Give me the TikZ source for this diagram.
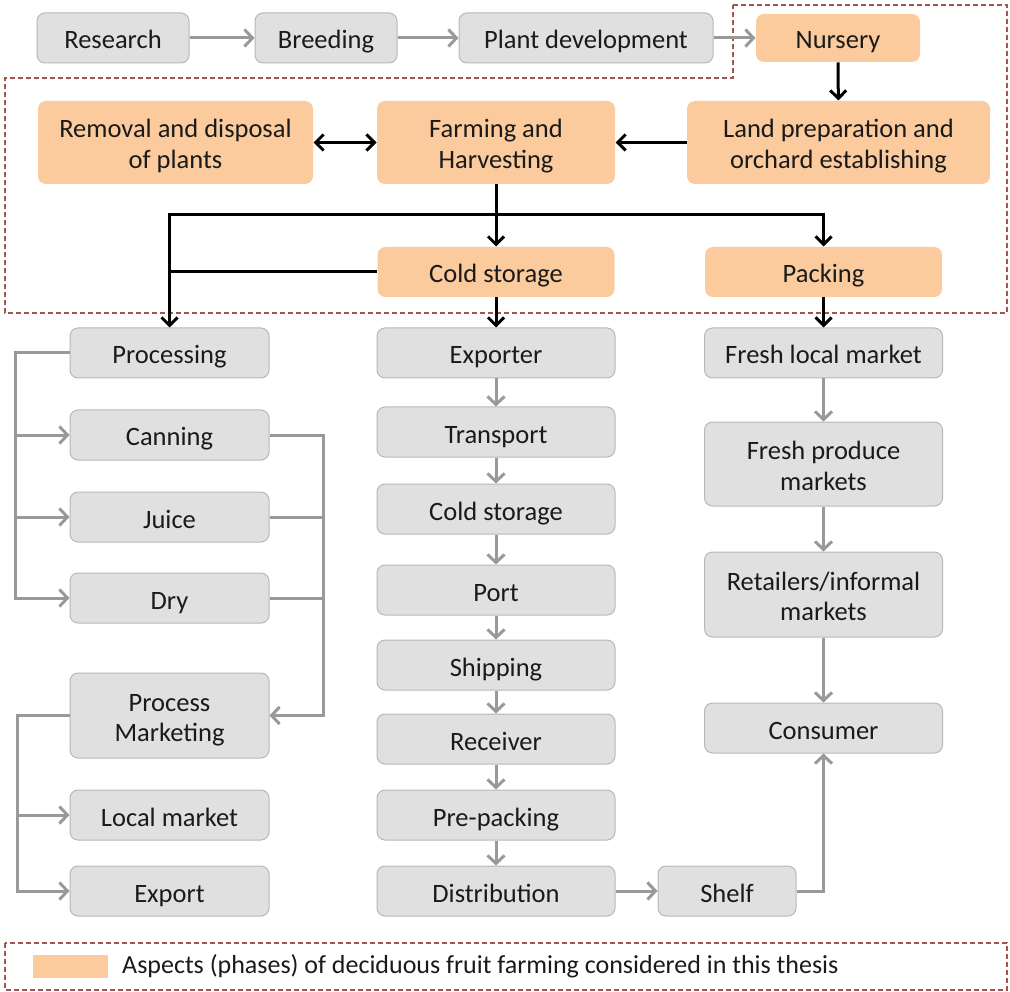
\documentclass[tikz,border=0pt]{standalone}
\usepackage{fontspec}
\setmainfont{Carlito}
\usetikzlibrary{arrows.meta}
\definecolor{boxgray}{HTML}{E0E0E0}
\definecolor{boxedge}{HTML}{B8B8B8}
\definecolor{peach}{HTML}{FBCB9D}
\definecolor{arrgray}{HTML}{999999}
\definecolor{dashred}{HTML}{A05552}
\definecolor{txt}{HTML}{1A1A1A}
\begin{document}
\begin{tikzpicture}[x=1pt,y=-1pt,
    gbox/.style={draw=boxedge, line width=1pt, fill=boxgray, rounded corners=8pt, align=center, text=txt,
        inner sep=0pt, minimum height=50pt, font=\fontsize{26.5}{30.5}\selectfont, text height=22pt, text depth=0pt},
    gtwo/.style={gbox, text height=52pt},
    obox/.style={gbox, draw=none, fill=peach},
    otwo/.style={gtwo, draw=none, fill=peach},
    garr/.style={draw=arrgray, line width=3pt, -{Straight Barb[length=8pt,width=17pt]}},
    gline/.style={draw=arrgray, line width=3pt},
    barr/.style={draw=black, line width=3pt, -{Straight Barb[length=8pt,width=16pt]}},
    bline/.style={draw=black, line width=3pt},
    region/.style={draw=dashred, line width=1.3pt, dash pattern=on 5pt off 3pt}]
        \useasboundingbox (0,0) rectangle (1010,992);

        % area of the thesis
        \draw[region] (733,5) -- (1007,5) -- (1007,313) -- (5,313) -- (5,78) -- (733,78) -- cycle;

        % top row
        \node[gbox, minimum width=152pt] (research) at (113,38) {Research};
        \node[gbox, minimum width=142pt] (breeding) at (326,38) {Breeding};
        \node[gbox, minimum width=254pt] (plantdev) at (586,38) {Plant development};
        \node[obox, minimum width=164pt, minimum height=48pt] (nursery) at (838,38) {Nursery};

        \node[otwo, minimum width=275pt, minimum height=83pt] (removal) at (175.5,142.5) {Removal and disposal\\of plants};
        \node[otwo, minimum width=238pt, minimum height=83pt] (farming) at (496,142.5) {Farming and\\Harvesting};
        \node[otwo, minimum width=303pt, minimum height=83pt] (landprep) at (838.5,142.5) {Land preparation and\\orchard establishing};

        \node[obox, minimum width=237pt] (coldstore) at (496,272) {Cold storage};
        \node[obox, minimum width=237pt] (packing) at (823.5,272) {Packing};

        % processing column
        \node[gbox, minimum width=199pt] (processing) at (169.5,353) {Processing};
        \node[gbox, minimum width=199pt] (canning) at (169.5,435) {Canning};
        \node[gbox, minimum width=199pt] (juice) at (169.5,517) {Juice};
        \node[gbox, minimum width=199pt] (dry) at (169.5,598) {Dry};
        \node[gtwo, minimum width=199pt, minimum height=85pt] (procmkt) at (169.5,715.5) {Process\\Marketing};
        \node[gbox, minimum width=199pt] (localmkt) at (169.5,815) {Local market};
        \node[gbox, minimum width=199pt] (export) at (169.5,891) {Export};

        % export column
        \node[gbox, minimum width=238pt] (exporter) at (496,353) {Exporter};
        \node[gbox, minimum width=238pt] (transport) at (496,432) {Transport};
        \node[gbox, minimum width=238pt] (coldstore2) at (496,509) {Cold storage};
        \node[gbox, minimum width=238pt] (port) at (496,590) {Port};
        \node[gbox, minimum width=238pt] (shipping) at (496,665) {Shipping};
        \node[gbox, minimum width=238pt] (receiver) at (496,739) {Receiver};
        \node[gbox, minimum width=238pt] (prepack) at (496,815) {Pre-packing};
        \node[gbox, minimum width=238pt] (distrib) at (496,891) {Distribution};
        \node[gbox, minimum width=138pt] (shelf) at (727,891) {Shelf};

        % fresh column
        \node[gbox, minimum width=238pt] (freshlocal) at (823.5,353) {Fresh local market};
        \node[gtwo, minimum width=238pt, minimum height=84pt] (freshprod) at (823.5,464) {Fresh produce\\markets};
        \node[gtwo, minimum width=238pt, minimum height=85pt] (retailers) at (823.5,594.5) {Retailers/informal\\markets};
        \node[gbox, minimum width=238pt] (consumer) at (823.5,728) {Consumer};

        % connectors
        \draw[garr] (research) -- (breeding);
        \draw[garr] (breeding) -- (plantdev);
        \draw[garr] (plantdev) -- (nursery);
        \draw[barr] (nursery) -- (landprep);
        \draw[barr] (landprep) -- (farming);
        \draw[barr, {Straight Barb[length=8pt,width=16pt]}-{Straight Barb[length=8pt,width=16pt]}] (removal) -- (farming);

        \coordinate (split) at (496,215);
        \draw[barr] (farming) -- (coldstore);
        \draw[barr] (split) -| (processing);
        \draw[barr] (split) -| (packing);
        \draw[bline] (coldstore.west) -- (coldstore.west -| processing);
        \draw[barr] (coldstore) -- (exporter);
        \draw[barr] (packing) -- (freshlocal);

        \coordinate (lbus) at (15,0);
        \coordinate (rbus) at (323,0);
        \coordinate (mbus) at (17,0);
        \draw[garr] (processing.west) -| (lbus |- dry) -- (dry);
        \draw[garr] (lbus |- canning) -- (canning);
        \draw[garr] (lbus |- juice) -- (juice);
        \draw[garr] (canning.east) -| (rbus |- procmkt) -- (procmkt);
        \draw[gline] (juice.east) -- (rbus |- juice);
        \draw[gline] (dry.east) -- (rbus |- dry);
        \draw[garr] (procmkt.west) -| (mbus |- export) -- (export);
        \draw[garr] (mbus |- localmkt) -- (localmkt);

        \foreach \a/\b in {exporter/transport, transport/coldstore2, coldstore2/port, port/shipping,
            shipping/receiver, receiver/prepack, prepack/distrib, freshlocal/freshprod,
            freshprod/retailers, retailers/consumer}
            \draw[garr] (\a) -- (\b);
        \draw[garr] (distrib) -- (shelf);
        \draw[garr] (shelf.east) -| (consumer.south);

        % legend
        \draw[region] (5,943) rectangle (1007,990);
        \node[fill=peach, minimum width=75pt, minimum height=23pt, inner sep=0pt] (swatch) at (70.5,966.5) {};
        \node[anchor=west, inner sep=0pt, text=txt, font=\fontsize{26}{30}\selectfont] (legtext) at (122,966.5) {Aspects (phases) of deciduous fruit farming considered in this thesis};
    \end{tikzpicture}
\end{document}
